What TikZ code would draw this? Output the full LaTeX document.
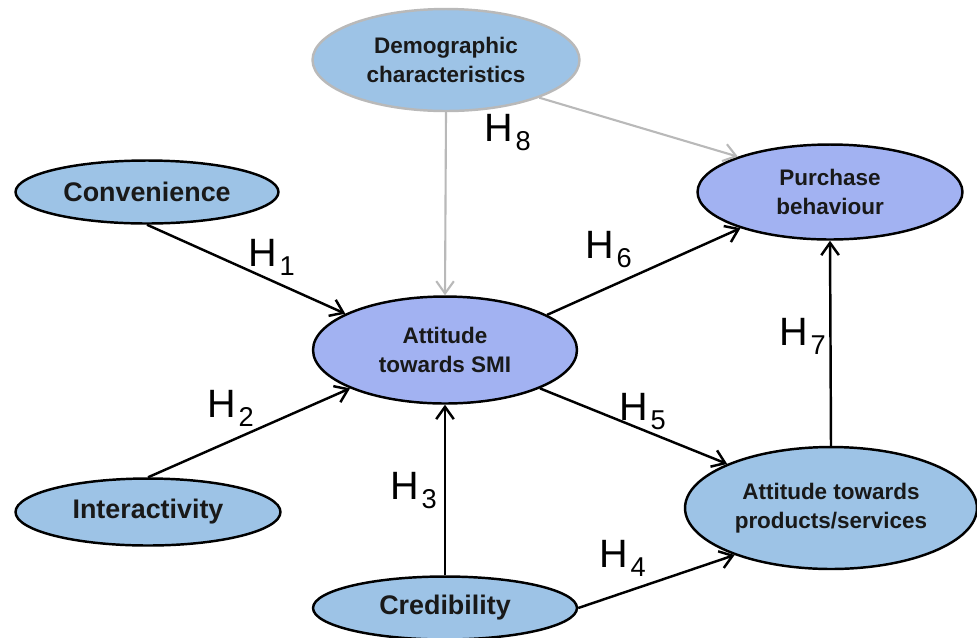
\documentclass[tikz,border=0pt]{standalone}
\usepackage{fontspec}
\setmainfont{Liberation Sans}
\usetikzlibrary{shapes.geometric,arrows.meta}
\definecolor{lblue}{RGB}{157,195,230}
\definecolor{lviolet}{RGB}{162,178,242}
\definecolor{lgray}{RGB}{185,185,185}
\newcommand{\hyp}[1]{H\kern1.5pt\raisebox{-5.6pt}{\fontsize{15.5}{15.5}\selectfont #1}}
\begin{document}
\begin{tikzpicture}[x=0.02cm, y=-0.02cm,
  var/.style={draw, ellipse, line width=1.4pt, inner sep=0pt, align=center,
    font=\bfseries\fontsize{15.3}{18}\selectfont, text=black!90},
  small/.style={font=\bfseries\fontsize{12.8}{16.5}\selectfont},
  hlab/.style={anchor=base west, inner sep=0pt, font=\fontsize{22.5}{22.5}\selectfont},
  arr/.style={-{Straight Barb[length=7pt,width=10pt]}, line width=1.4pt},
  garr/.style={arr, draw=lgray, line width=1.2pt}]
\useasboundingbox (0,0) rectangle (977,637);
\node[var, small, fill=lblue, draw=lgray, minimum width=5.34cm, minimum height=2.04cm] (demo) at (446,60) {Demographic\\characteristics};
\node[var, fill=lblue, minimum width=5.26cm, minimum height=1.26cm] (conv) at (147,192) {Convenience};
\node[var, small, fill=lviolet, minimum width=5.3cm, minimum height=1.9cm] (buy) at (830,192) {Purchase\\behaviour};
\node[var, small, fill=lviolet, minimum width=5.28cm, minimum height=2.14cm] (smi) at (445,350) {Attitude\\towards SMI};
\node[var, fill=lblue, minimum width=5.3cm, minimum height=1.34cm] (inter) at (148,512) {Interactivity};
\node[var, small, fill=lblue, minimum width=5.84cm, minimum height=2.44cm] (prod) at (831,508) {Attitude towards\\products/services};
\node[var, fill=lblue, minimum width=5.28cm, minimum height=1.26cm] (cred) at (445,608) {Credibility};
% connectors
\draw[garr] (demo.south) -- (smi.north);
\draw[garr] (demo.-22) -- (buy.159);
\draw[arr] (conv.south) -- (smi.160);
\draw[arr] (inter.north) -- (smi.202);
\draw[arr] (cred.north) -- (smi.south);
\draw[arr] (smi.19) -- (buy.202);
\draw[arr] (smi.-22) -- (prod.157);
\draw[arr] (cred.east) -- (prod.206);
\draw[arr] (prod.north) -- (buy.south);
% hypotheses
\node[hlab] (h1) at (248,266) {\hyp{1}};
\node[hlab] (h2) at (207,417) {\hyp{2}};
\node[hlab] (h3) at (390,499) {\hyp{3}};
\node[hlab] (h4) at (599,567) {\hyp{4}};
\node[hlab] (h5) at (619,420) {\hyp{5}};
\node[hlab] (h6) at (585,258) {\hyp{6}};
\node[hlab] (h7) at (779,345) {\hyp{7}};
\node[hlab] (h8) at (484,141) {\hyp{8}};
\end{tikzpicture}
\end{document}
